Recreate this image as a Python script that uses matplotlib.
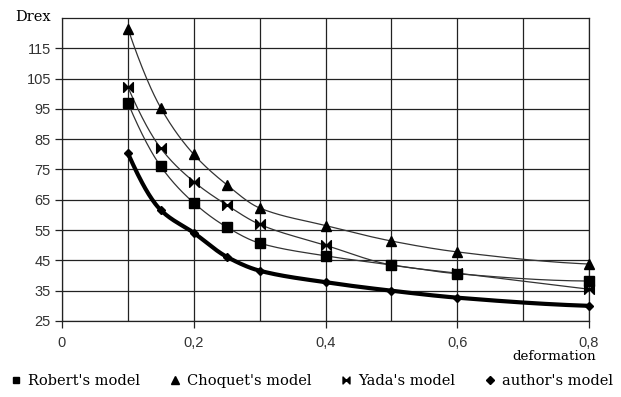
import numpy as np
import matplotlib
matplotlib.use("Agg")
import matplotlib.pyplot as plt
from matplotlib.path import Path
from matplotlib.lines import Line2D

deformation = [0.1, 0.15, 0.2, 0.25, 0.3, 0.4, 0.5, 0.6, 0.8]
robert = [97, 76, 64, 56, 50.7, 46.5, 43.5, 40.6, 38.2]
choquet = [121.5, 95.3, 80, 70, 62.3, 56.5, 51.4, 47.8, 43.8]
yada = [102.2, 82, 71, 63.3, 56.9, 50, 43.5, 40.8, 35.5]
author = [80.4, 61.6, 54.1, 46.2, 41.6, 37.8, 35, 32.7, 30]
labels = ["Robert's model", "Choquet's model", "Yada's model", "author's model"]
yticks = [25, 35, 45, 55, 65, 75, 85, 95, 105, 115]
xticks = [0, 0.2, 0.4, 0.6, 0.8]
xticklabels = ["0", "0,2", "0,4", "0,6", "0,8"]


def smooth(x, y, n=30):
    # shape-preserving cubic Hermite rendering of a smooth curve through the points
    x = np.asarray(x, float)
    y = np.asarray(y, float)
    h = np.diff(x)
    d = np.diff(y) / h
    m = np.zeros_like(y)
    for k in range(1, len(x) - 1):
        if d[k - 1] * d[k] <= 0:
            m[k] = 0
        else:
            w1 = 2 * h[k] + h[k - 1]
            w2 = h[k] + 2 * h[k - 1]
            m[k] = (w1 + w2) / (w1 / d[k - 1] + w2 / d[k])
    m[0] = ((2 * h[0] + h[1]) * d[0] - h[0] * d[1]) / (h[0] + h[1])
    m[-1] = ((2 * h[-1] + h[-2]) * d[-1] - h[-1] * d[-2]) / (h[-1] + h[-2])
    xs, ys = [], []
    for k in range(len(x) - 1):
        t = np.linspace(0, 1, n, endpoint=False)
        h00 = 2 * t**3 - 3 * t**2 + 1
        h10 = t**3 - 2 * t**2 + t
        h01 = -2 * t**3 + 3 * t**2
        h11 = t**3 - t**2
        xs.extend(x[k] + t * h[k])
        ys.extend(h00 * y[k] + h10 * h[k] * m[k] + h01 * y[k + 1] + h11 * h[k] * m[k + 1])
    xs.append(x[-1]); ys.append(y[-1])
    return np.array(xs), np.array(ys)


bowtie = Path([(-1, -1), (1, 1), (1, -1), (-1, 1), (-1, -1)],
              [Path.MOVETO, Path.LINETO, Path.LINETO, Path.LINETO, Path.CLOSEPOLY])

fig = plt.figure(figsize=(6.21, 3.97), dpi=100)
ax = fig.add_axes([62 / 621, 1 - 321 / 397, (589 - 62) / 621, (321 - 18) / 397])

series = [
    (robert, 's', 7, '#333333', 0.9),
    (choquet, '^', 7, '#333333', 0.9),
    (yada, bowtie, 7, '#333333', 0.9),
    (author, 'D', 4, 'black', 3.0),
]
for vals, mk, ms, lc, lw in series:
    sx, sy = smooth(deformation, vals)
    ax.plot(sx, sy, color=lc, lw=lw, zorder=3, solid_capstyle='round')
    ax.plot(deformation, vals, linestyle='none', marker=mk, ms=ms, color='black',
            zorder=4, clip_on=False)

ax.set_xlim(0, 0.8)
ax.set_ylim(25, 125)
ax.set_xticks(xticks)
ax.set_xticklabels(xticklabels)
ax.set_xticks(np.arange(0.1, 0.8, 0.2), minor=True)
ax.set_yticks(yticks)
ax.grid(True, which='both', color='#222222', lw=0.9)
ax.tick_params(axis='x', which='minor', length=0)
ax.tick_params(axis='both', which='major', direction='out', length=5, width=0.9, color='#222222')
for sp in ax.spines.values():
    sp.set_color('#222222')
    sp.set_linewidth(0.9)
for lab in ax.get_xticklabels() + ax.get_yticklabels():
    lab.set_fontfamily('Liberation Sans')
    lab.set_fontsize(10.5)
    lab.set_color('#333333')
ax.tick_params(axis='x', pad=6)
ax.tick_params(axis='y', pad=3)

fig.text(51 / 621, 1 - 17 / 397, "Drex", ha='right', va='center', fontsize=10.5,
         family='DejaVu Serif')
fig.text(596 / 621, 1 - 357 / 397, "deformation", ha='right', va='center', fontsize=9.7,
         family='DejaVu Serif')

handles = [
    Line2D([], [], linestyle='none', marker='s', ms=5, color='black'),
    Line2D([], [], linestyle='none', marker='^', ms=6, color='black'),
    Line2D([], [], linestyle='none', marker=bowtie, ms=5, color='black'),
    Line2D([], [], linestyle='none', marker='D', ms=4, color='black'),
]
fig.legend(handles, labels, loc='center', bbox_to_anchor=(312 / 621, 1 - 381 / 397), ncol=4,
           frameon=False, prop={'family': 'DejaVu Serif', 'size': 10.5},
           handlelength=0.7, handletextpad=0.5, columnspacing=2.0, borderpad=0,
           borderaxespad=0)

fig.savefig('out.png', dpi=100)
